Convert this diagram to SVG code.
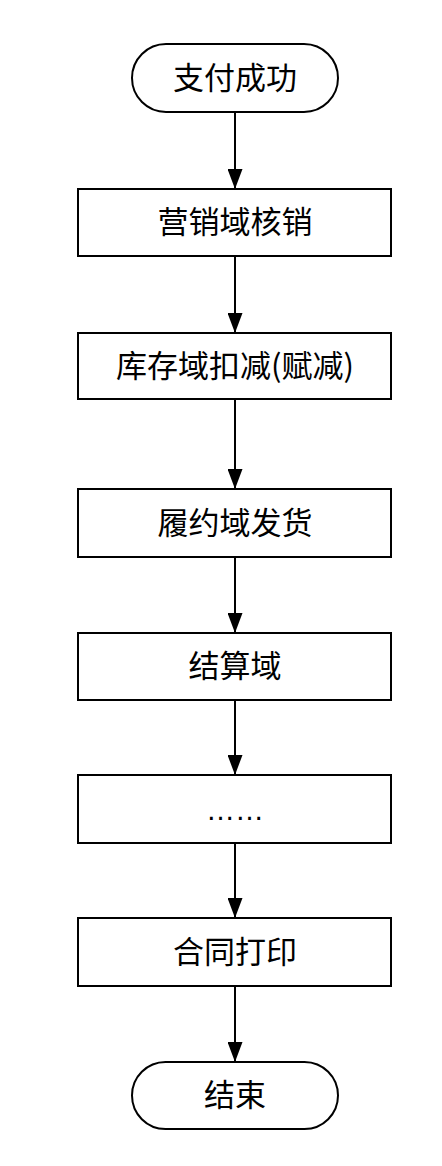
<svg xmlns="http://www.w3.org/2000/svg" width="442" height="1166" viewBox="0 0 442 1166">
  <style>
    .shape { fill: #ffffff; stroke: #000000; stroke-width: 2; }
    .label { font-family: "Noto Sans CJK SC", "Noto Sans", sans-serif; font-size: 31px; fill: #000000; text-anchor: middle; }
    .conn { stroke: #000000; stroke-width: 2; fill: none; marker-end: url(#arrow); }
  </style>
  <defs>
    <marker id="arrow" viewBox="0 0 20 15" refX="20" refY="7.5" markerWidth="20" markerHeight="15" markerUnits="userSpaceOnUse" orient="auto">
      <path d="M0,0 L20,7.5 L0,15 Z" fill="#000000"/>
    </marker>
  </defs>
  <rect width="442" height="1166" fill="#ffffff"/>

  <g id="connectors">
    <line class="conn" x1="235" y1="112" x2="235" y2="189"/>
    <line class="conn" x1="235" y1="256" x2="235" y2="333"/>
    <line class="conn" x1="235" y1="399" x2="235" y2="489"/>
    <line class="conn" x1="235" y1="557" x2="235" y2="633"/>
    <line class="conn" x1="235" y1="700" x2="235" y2="775"/>
    <line class="conn" x1="235" y1="843" x2="235" y2="918"/>
    <line class="conn" x1="235" y1="986" x2="235" y2="1062"/>
  </g>

  <g id="start">
    <rect class="shape" x="132" y="44" width="206" height="68" rx="34" ry="34"/>
    <text class="label" x="235" y="89">支付成功</text>
  </g>
  <g id="marketing">
    <rect class="shape" x="78" y="189" width="313" height="67"/>
    <text class="label" x="235" y="233">营销域核销</text>
  </g>
  <g id="inventory">
    <rect class="shape" x="78" y="333" width="313" height="66"/>
    <text class="label" x="235" y="377">库存域扣减(赋减)</text>
  </g>
  <g id="fulfillment">
    <rect class="shape" x="78" y="489" width="313" height="68"/>
    <text class="label" x="235" y="534">履约域发货</text>
  </g>
  <g id="settlement">
    <rect class="shape" x="78" y="633" width="313" height="67"/>
    <text class="label" x="235" y="677">结算域</text>
  </g>
  <g id="etc">
    <rect class="shape" x="78" y="775" width="313" height="68"/>
    <text class="label" x="235" y="820" style="font-family: 'Liberation Sans', sans-serif; font-size: 29px;">……</text>
  </g>
  <g id="contract">
    <rect class="shape" x="78" y="918" width="313" height="68"/>
    <text class="label" x="235" y="963">合同打印</text>
  </g>
  <g id="end">
    <rect class="shape" x="132" y="1062" width="206" height="67" rx="33.5" ry="33.5"/>
    <text class="label" x="235" y="1106">结束</text>
  </g>
</svg>
